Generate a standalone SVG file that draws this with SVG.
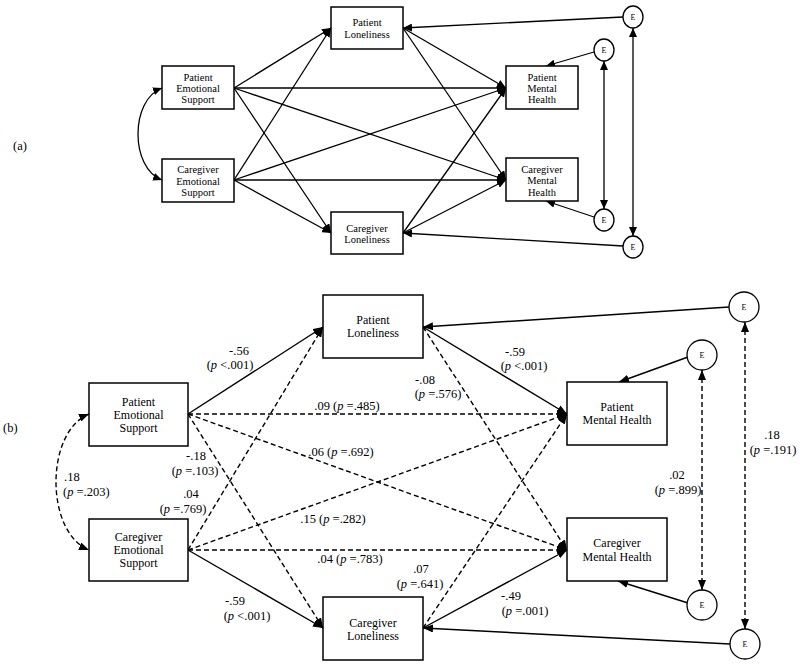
<svg xmlns="http://www.w3.org/2000/svg" width="800" height="665" viewBox="0 0 800 665" font-family="'Liberation Serif', 'DejaVu Serif', serif">
<defs>
<marker id="ha" markerUnits="userSpaceOnUse" markerWidth="9" markerHeight="8" refX="9" refY="4" orient="auto-start-reverse"><path d="M0,0 L9,4 L0,8 z" fill="#000"/></marker>
<marker id="hb" markerUnits="userSpaceOnUse" markerWidth="10" markerHeight="8" refX="10" refY="4" orient="auto-start-reverse"><path d="M0,0 L10,4 L0,8 z" fill="#000"/></marker>
</defs>
<style>
rect{fill:#fff;stroke:#000;stroke-width:1.5}
ellipse{fill:#fff;stroke:#000;stroke-width:1.3}
text{font-family:'Liberation Serif','DejaVu Serif',serif;fill:#000}
.ta{font-size:10.5px;text-anchor:middle}
.tb{font-size:12px;text-anchor:middle}
.e{font-size:8px;text-anchor:middle}
.lb{font-size:12.5px;text-anchor:middle}
.la{font-size:12.5px}
.ca path,.ca line{fill:none;stroke:#000;stroke-width:1.3;marker-end:url(#ha)}
.cb path,.cb line{fill:none;stroke:#000;stroke-width:1.4;marker-end:url(#hb)}
.cb .d{stroke-dasharray:5 3}
.ca .bi{marker-start:url(#ha)}
.cb .bi{marker-start:url(#hb)}
</style>
<text class="la" x="13" y="150" font-family="'Liberation Serif', serif">(a)</text>
<text class="la" x="3" y="432" font-family="'Liberation Serif', serif">(b)</text>

<g id="connectors-a" class="ca">
<line x1="234" y1="88" x2="331" y2="28"/>
<line x1="234" y1="88" x2="331" y2="233"/>
<line x1="234" y1="88" x2="506" y2="88"/>
<line x1="234" y1="88" x2="506" y2="180"/>
<line x1="234" y1="180" x2="331" y2="28"/>
<line x1="234" y1="180" x2="331" y2="233"/>
<line x1="234" y1="180" x2="506" y2="88"/>
<line x1="234" y1="180" x2="506" y2="180"/>
<line x1="403" y1="28" x2="506" y2="88"/>
<line x1="403" y1="28" x2="506" y2="180"/>
<line x1="403" y1="233" x2="506" y2="88"/>
<line x1="403" y1="233" x2="506" y2="180"/>
<line x1="623" y1="17" x2="403" y2="28"/>
<line x1="594" y1="52" x2="546" y2="66"/>
<line x1="594" y1="217" x2="546" y2="201"/>
<line x1="623" y1="246" x2="403" y2="233"/>
<line class="bi" x1="604" y1="61" x2="604" y2="209"/>
<line class="bi" x1="633" y1="28" x2="633" y2="236"/>
<path class="bi" d="M162,88 C130,100 130,168 162,180"/>
</g>

<g id="PES-a"><rect x="162" y="66" width="72" height="43"/><text class="ta" x="198" y="81">Patient</text><text class="ta" x="198" y="92">Emotional</text><text class="ta" x="198" y="103">Support</text></g>
<g id="CES-a"><rect x="162" y="159" width="72" height="43"/><text class="ta" x="198" y="173">Caregiver</text><text class="ta" x="198" y="185">Emotional</text><text class="ta" x="198" y="196">Support</text></g>
<g id="PL-a"><rect x="331" y="7" width="72" height="42"/><text class="ta" x="367" y="26">Patient</text><text class="ta" x="367" y="38">Loneliness</text></g>
<g id="CL-a"><rect x="331" y="212" width="72" height="42"/><text class="ta" x="367" y="232">Caregiver</text><text class="ta" x="367" y="243">Loneliness</text></g>
<g id="PMH-a"><rect x="506" y="66" width="72" height="43"/><text class="ta" x="542" y="81">Patient</text><text class="ta" x="542" y="92">Mental</text><text class="ta" x="542" y="103">Health</text></g>
<g id="CMH-a"><rect x="506" y="158" width="72" height="43"/><text class="ta" x="542" y="173">Caregiver</text><text class="ta" x="542" y="184">Mental</text><text class="ta" x="542" y="196">Health</text></g>
<g id="E1-a"><ellipse cx="633" cy="17" rx="10" ry="11"/><text class="e" x="633" y="20">E</text></g>
<g id="E2-a"><ellipse cx="604" cy="50" rx="10" ry="11"/><text class="e" x="604" y="53">E</text></g>
<g id="E3-a"><ellipse cx="604" cy="220" rx="10" ry="11"/><text class="e" x="604" y="223">E</text></g>
<g id="E4-a"><ellipse cx="633" cy="247" rx="10" ry="11"/><text class="e" x="633" y="250">E</text></g>

<g id="connectors-b" class="cb">
<line x1="188" y1="414" x2="323" y2="327"/>
<line class="d" x1="188" y1="414" x2="567" y2="414"/>
<line class="d" x1="188" y1="414" x2="567" y2="550"/>
<line class="d" x1="188" y1="414" x2="323" y2="628"/>
<line class="d" x1="188" y1="550" x2="323" y2="327"/>
<line class="d" x1="188" y1="550" x2="567" y2="414"/>
<line class="d" x1="188" y1="550" x2="567" y2="550"/>
<line x1="188" y1="550" x2="323" y2="628"/>
<line x1="423" y1="327" x2="567" y2="414"/>
<line class="d" x1="423" y1="327" x2="567" y2="550"/>
<line x1="423" y1="628" x2="567" y2="550"/>
<line class="d" x1="423" y1="628" x2="567" y2="414"/>
<line x1="729" y1="307" x2="423" y2="327"/>
<line x1="688" y1="357" x2="619" y2="382"/>
<line x1="688" y1="603" x2="618" y2="581"/>
<line x1="730" y1="644" x2="423" y2="628"/>
<line class="d bi" x1="702" y1="370" x2="702" y2="590"/>
<line class="d bi" x1="745" y1="322" x2="745" y2="629"/>
<path class="d bi" d="M89,414 C45,432 45,532 89,550"/>
</g>

<g id="labels-b">
<text class="lb" x="239" y="355">-.56</text><text class="lb" x="230" y="369">(<tspan font-style="italic">p</tspan> &lt;.001)</text>
<text class="lb" x="515" y="356">-.59</text><text class="lb" x="524" y="370">(<tspan font-style="italic">p</tspan> &lt;.001)</text>
<text class="lb" x="425" y="384">-.08</text><text class="lb" x="438" y="398">(<tspan font-style="italic">p</tspan> =.576)</text>
<text class="lb" x="347" y="410">.09 (<tspan font-style="italic">p</tspan> =.485)</text>
<text class="lb" x="341" y="456">.06 (<tspan font-style="italic">p</tspan> =.692)</text>
<text class="lb" x="196" y="460">-.18</text><text class="lb" x="195" y="475">(<tspan font-style="italic">p</tspan> =.103)</text>
<text class="la" x="64" y="481">.18</text><text class="la" x="63" y="496">(<tspan font-style="italic">p</tspan> =.203)</text>
<text class="lb" x="191" y="498">.04</text><text class="lb" x="183" y="513">(<tspan font-style="italic">p</tspan> =.769)</text>
<text class="lb" x="333" y="523">.15 (<tspan font-style="italic">p</tspan> =.282)</text>
<text class="lb" x="350" y="563">.04 (<tspan font-style="italic">p</tspan> =.783)</text>
<text class="lb" x="235" y="605">-.59</text><text class="lb" x="247" y="620">(<tspan font-style="italic">p</tspan> &lt;.001)</text>
<text class="lb" x="421" y="573">.07</text><text class="lb" x="420" y="588">(<tspan font-style="italic">p</tspan> =.641)</text>
<text class="lb" x="511" y="600">-.49</text><text class="lb" x="525" y="615">(<tspan font-style="italic">p</tspan> =.001)</text>
<text class="lb" x="677" y="479">.02</text><text class="lb" x="678" y="494">(<tspan font-style="italic">p</tspan> =.899)</text>
<text class="lb" x="772" y="439">.18</text><text class="lb" x="773" y="454">(<tspan font-style="italic">p</tspan> =.191)</text>
</g>

<g id="PES-b"><rect x="89" y="383" width="99" height="63"/><text class="tb" x="138.5" y="406">Patient</text><text class="tb" x="138.5" y="419">Emotional</text><text class="tb" x="138.5" y="432">Support</text></g>
<g id="CES-b"><rect x="89" y="519" width="99" height="62"/><text class="tb" x="138.5" y="541">Caregiver</text><text class="tb" x="138.5" y="554">Emotional</text><text class="tb" x="138.5" y="567">Support</text></g>
<g id="PL-b"><rect x="323" y="295" width="100" height="63"/><text class="tb" x="373" y="324">Patient</text><text class="tb" x="373" y="337">Loneliness</text></g>
<g id="CL-b"><rect x="323" y="597" width="100" height="63"/><text class="tb" x="373" y="627">Caregiver</text><text class="tb" x="373" y="640">Loneliness</text></g>
<g id="PMH-b"><rect x="567" y="382" width="100" height="63"/><text class="tb" x="617" y="411">Patient</text><text class="tb" x="617" y="424">Mental Health</text></g>
<g id="CMH-b"><rect x="567" y="518" width="100" height="63"/><text class="tb" x="617" y="547">Caregiver</text><text class="tb" x="617" y="561">Mental Health</text></g>
<g id="E1-b"><ellipse cx="744" cy="307" rx="15" ry="15"/><text class="e" x="744" y="310">E</text></g>
<g id="E2-b"><ellipse cx="702" cy="355" rx="15" ry="15"/><text class="e" x="702" y="358">E</text></g>
<g id="E3-b"><ellipse cx="702" cy="605" rx="15" ry="15"/><text class="e" x="702" y="608">E</text></g>
<g id="E4-b"><ellipse cx="745" cy="644" rx="15" ry="15"/><text class="e" x="745" y="647">E</text></g>
</svg>
